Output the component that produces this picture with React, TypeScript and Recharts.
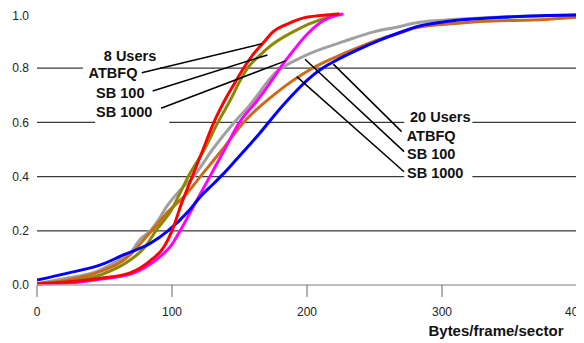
import { LineChart, Line, XAxis, YAxis, ReferenceLine } from 'recharts';

// CDF curves: [bytes/frame/sector, cumulative fraction]
const users8Atbfq = [
  [0, 0.005], [20, 0.01], [47, 0.025], [69, 0.045], [84, 0.09], [94, 0.14], [100, 0.2],
  [107, 0.3], [115, 0.4], [123, 0.5], [131, 0.6], [140, 0.69], [147, 0.75], [153, 0.8],
  [160, 0.85], [167, 0.89], [175, 0.935], [185, 0.962], [195, 0.982], [212, 0.995], [224, 1.0],
];
const users8Sb100 = [
  [0, 0.005], [22, 0.012], [47, 0.037], [69, 0.092], [80, 0.14], [88, 0.2], [100, 0.28],
  [106, 0.34], [112, 0.4], [124, 0.5], [134, 0.6], [144, 0.69], [150, 0.75], [156, 0.8],
  [166, 0.852], [175, 0.89], [190, 0.935], [200, 0.96], [213, 0.984], [224, 1.0],
];
const users8Sb1000 = [
  [0, 0.003], [25, 0.008], [47, 0.022], [71, 0.043], [80, 0.065], [91, 0.104], [100, 0.15],
  [106, 0.2], [117, 0.3], [128, 0.4], [139, 0.5], [150, 0.6], [163, 0.68], [176, 0.77],
  [180, 0.8], [186, 0.84], [201, 0.93], [212, 0.975], [222, 0.995], [227, 1.0],
];
const users20Atbfq = [
  [0, 0.018], [22, 0.043], [47, 0.074], [64, 0.111], [84, 0.154], [97, 0.2], [113, 0.277],
  [121, 0.326], [130, 0.37], [138, 0.41], [148, 0.465], [157, 0.515], [165, 0.56],
  [175, 0.621], [189, 0.7], [200, 0.755], [210, 0.795], [219, 0.822], [237, 0.867],
  [254, 0.904], [274, 0.941], [279, 0.95], [303, 0.972], [353, 0.99], [400, 0.996],
];
const users20Sb100 = [
  [0, 0.005], [22, 0.025], [44, 0.049], [60, 0.09], [69, 0.117], [76, 0.166], [84, 0.2],
  [90, 0.24], [96, 0.289], [106, 0.35], [116, 0.4], [130, 0.5], [146, 0.6], [157, 0.66],
  [176, 0.78], [198, 0.845], [228, 0.9], [250, 0.935], [268, 0.953], [279, 0.966], [303, 0.978],
  [340, 0.988], [370, 0.993], [400, 0.997],
];
const users20Sb1000 = [
  [0, 0.005], [22, 0.018], [44, 0.045], [69, 0.111], [81, 0.178], [85, 0.2], [96, 0.265],
  [111, 0.338], [121, 0.4], [137, 0.498], [153, 0.6], [175, 0.7], [204, 0.8], [230, 0.86],
  [250, 0.9], [268, 0.929], [279, 0.947], [310, 0.965], [328, 0.972], [377, 0.98], [400, 0.988],
];

const xTicks = [0, 100, 200, 300, 400];
const yTicks = [0, 0.2, 0.4, 0.6, 0.8, 1.0];

// gridline pieces, broken where the labels sit
const gridPieces: [number, number, number][] = [
  [0.2, 0, 400],
  [0.4, 0, 272], [0.4, 322.5, 400],
  [0.6, 0, 43], [0.6, 98, 272], [0.6, 322.5, 400],
  [0.8, 0, 34], [0.8, 91, 400],
];

// leader lines: label end -> curve point
const leaders: [number, number, number, number][] = [
  [77.6, 0.783, 166.4, 0.89],
  [85.7, 0.716, 170.7, 0.849],
  [91.9, 0.652, 184.1, 0.827],
  [219.5, 0.815, 270.1, 0.566],
  [198.5, 0.833, 271.9, 0.492],
  [192.4, 0.769, 271.9, 0.418],
];

const toPts = (arr: number[][]) => arr.map(([x, y]) => ({ x, y }));

const series = [
  { name: '20 Users SB 100', data: users20Sb100, color: '#a0a0a0' },
  { name: '20 Users SB 1000', data: users20Sb1000, color: '#cc6a1a' },
  { name: '8 Users SB 100', data: users8Sb100, color: '#8a8a00' },
  { name: '8 Users SB 1000', data: users8Sb1000, color: '#ff00ff' },
  { name: '20 Users ATBFQ', data: users20Atbfq, color: '#0000ff' },
  { name: '8 Users ATBFQ', data: users8Atbfq, color: '#ff0000' },
];

const font = '"Liberation Sans", Arial, sans-serif';
const labelStyle = { fontFamily: font, fontSize: 14.5, fontWeight: 700, fill: '#111' };

export default function App() {
  return (
    <div style={{ width: 576, height: 335, background: '#fff' }}>
      <LineChart width={576} height={335} margin={{ top: 6, right: 7, bottom: 28, left: 0 }}>
        <XAxis
          type="number"
          dataKey="x"
          domain={[0, 400]}
          ticks={xTicks}
          allowDataOverflow
          height={30}
          axisLine={{ stroke: '#a8a8a8', strokeWidth: 1.5 }}
          tickLine={{ stroke: '#666' }}
          tickSize={12}
          tickMargin={10}
          tick={{ fontSize: 12, fill: '#222', fontFamily: font }}
        />
        <YAxis
          type="number"
          domain={[0, 1]}
          ticks={yTicks}
          width={29}
          axisLine={false}
          tickLine={false}
          tick={{ fontSize: 12, fill: '#222', fontFamily: font }}
          tickFormatter={(v) => Number(v).toFixed(1)}
        />
        {gridPieces.map(([y, x1, x2], i) => (
          <ReferenceLine
            key={`g${i}`}
            segment={[{ x: x1, y }, { x: x2, y }]}
            stroke="#3a3a3a"
            strokeWidth={1.3}
          />
        ))}
        <ReferenceLine segment={[{ x: 400, y: 0 }, { x: 400, y: 1 }]} stroke="#555" strokeWidth={1.3} />
        {series.map((s) => (
          <Line
            key={s.name}
            data={toPts(s.data)}
            dataKey="y"
            name={s.name}
            type="monotone"
            stroke={s.color}
            strokeWidth={3}
            dot={false}
            isAnimationActive={false}
          />
        ))}
        {leaders.map(([x1, y1, x2, y2], i) => (
          <ReferenceLine
            key={`l${i}`}
            segment={[{ x: x1, y: y1 }, { x: x2, y: y2 }]}
            stroke="#000"
            strokeWidth={1.5}
          />
        ))}
        <text x={122} y={53} textAnchor="middle" style={labelStyle}>8 Users</text>
        <text x={105} y={69.7} textAnchor="middle" style={labelStyle}>ATBFQ</text>
        <text x={112.3} y={90.2} textAnchor="middle" style={labelStyle}>SB 100</text>
        <text x={116.2} y={109.3} textAnchor="middle" style={labelStyle}>SB 1000</text>
        <text x={402} y={113.7} style={labelStyle}>20 Users</text>
        <text x={398.7} y={132.7} style={labelStyle}>ATBFQ</text>
        <text x={399} y={151.3} style={labelStyle}>SB 100</text>
        <text x={399} y={170.3} style={labelStyle}>SB 1000</text>
        <text x={488} y={327.5} textAnchor="middle" style={{ ...labelStyle, fontSize: 15 }}>
          Bytes/frame/sector
        </text>
      </LineChart>
    </div>
  );
}
